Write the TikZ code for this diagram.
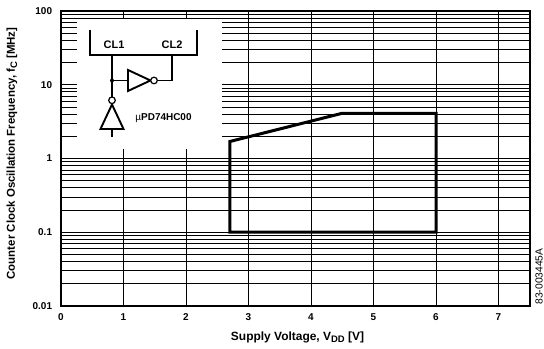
\documentclass[tikz,border=0pt]{standalone}
\usepackage{fontspec}
\setmainfont{Liberation Sans}
\usepackage{tikz}
\usetikzlibrary{calc,positioning}
\newcommand{\minorlines}[1]{
	\foreach \m in {2,...,9}
		\draw[line width=0.8bp] (0,{#1+log10(\m)}) -- (7.5,{#1+log10(\m)});
	}
\newcommand{\bubble}[2]{
	\draw[line width=1.2bp, fill=white] (#1) circle (#2);
	}
\newcommand{\lowsub}[1]{\raisebox{-0.35ex}{\fontsize{9.5}{10}\selectfont #1}}

\begin{document}
\begin{tikzpicture}[x=62.5bp, y=73.75bp, font=\bfseries]
	\useasboundingbox (-0.976,-0.583) rectangle (7.728,4.149);

	% grid
	\foreach \d in {0,...,3}{\minorlines{\d}}
	\foreach \d in {1,2,3} \draw[line width=1.3bp] (0,\d) -- (7.5,\d);
	\foreach \v in {1,...,7} \draw[line width=1bp] (\v,0) -- (\v,4);

	% blank area for the circuit
	\fill[white] (0.256,2.129) rectangle (2.576,3.892);
	\draw[line width=1.6bp] (0,0) rectangle (7.5,4);

	% tick labels
	\foreach \v in {0,...,7} \node (xt\v) at (\v,-0.145) {\v};
	\foreach \d/\t in {0/0.01,1/0.1,2/1,3/10,4/100}
		\node[anchor=east, inner sep=0pt] (yt\d) at (-0.14,\d) {\t};

	% operating range
	\draw[line width=3bp] (2.7,1) -- (2.7,2.23) -- (4.5,2.613) -- (6,2.613) -- (6,1) -- cycle;

	\node[font=\bfseries\fontsize{12}{14}\selectfont] (xlab) at (3.784,-0.42) {Supply Voltage, V\lowsub{DD} [V]};
	\node[rotate=90, font=\bfseries\fontsize{11.5}{14}\selectfont] (ylab) at (-0.784,2.068) {Counter Clock Oscillation Frequency, f\lowsub{C} [MHz]};
	\node[rotate=90, inner sep=0pt, font=\mdseries\fontsize{10.3}{12}\selectfont] (code) at (7.648,0.40) {83-003445A};

	% circuit, in pixel units
	\begin{scope}[shift={(-61bp,306bp)}, x=1bp, y=-1bp]
		\draw[line width=2.2bp] (90,30) -- (90,55) -- (197,55) -- (197,30);
		\node[font=\bfseries\fontsize{11}{12}\selectfont] (cla) at (114,45) {CL1};
		\node[font=\bfseries\fontsize{11}{12}\selectfont] (clb) at (172,45) {CL2};

		\coordinate (pa) at (112,55);
		\coordinate (pb) at (172,55);
		\coordinate (junc) at (112,80.5);
		\coordinate (ina) at (128,80.5);
		\coordinate (outa) at (157.5,80.5);
		\coordinate (turn) at (172,80.5);
		\coordinate (outb) at (112,96.8);
		\coordinate (inb) at (112,129);
		\coordinate (stem) at (112,137);

		\draw[line width=1.3bp] (pa) -- (outb);
		\draw[line width=1.3bp] (junc) -- (ina);
		\draw[line width=1.3bp] (outa) -- (turn) -- (pb);
		\draw[line width=1.3bp] (inb) -- (stem);
		\fill (junc) circle (2bp);

		\draw[line width=1.9bp, line join=miter] (128,70) -- (150.5,80.5) -- (128,91) -- cycle;
		\bubble{154,80.5}{3.3bp}
		\draw[line width=1.9bp, line join=miter] (100.5,129) -- (112,104.5) -- (123.5,129) -- cycle;
		\bubble{112,100.3}{3.3bp}

		\node (chip) at (163.5,118.5) {{\mdseries µ}PD74HC00};
	\end{scope}

\end{tikzpicture}
\end{document}
